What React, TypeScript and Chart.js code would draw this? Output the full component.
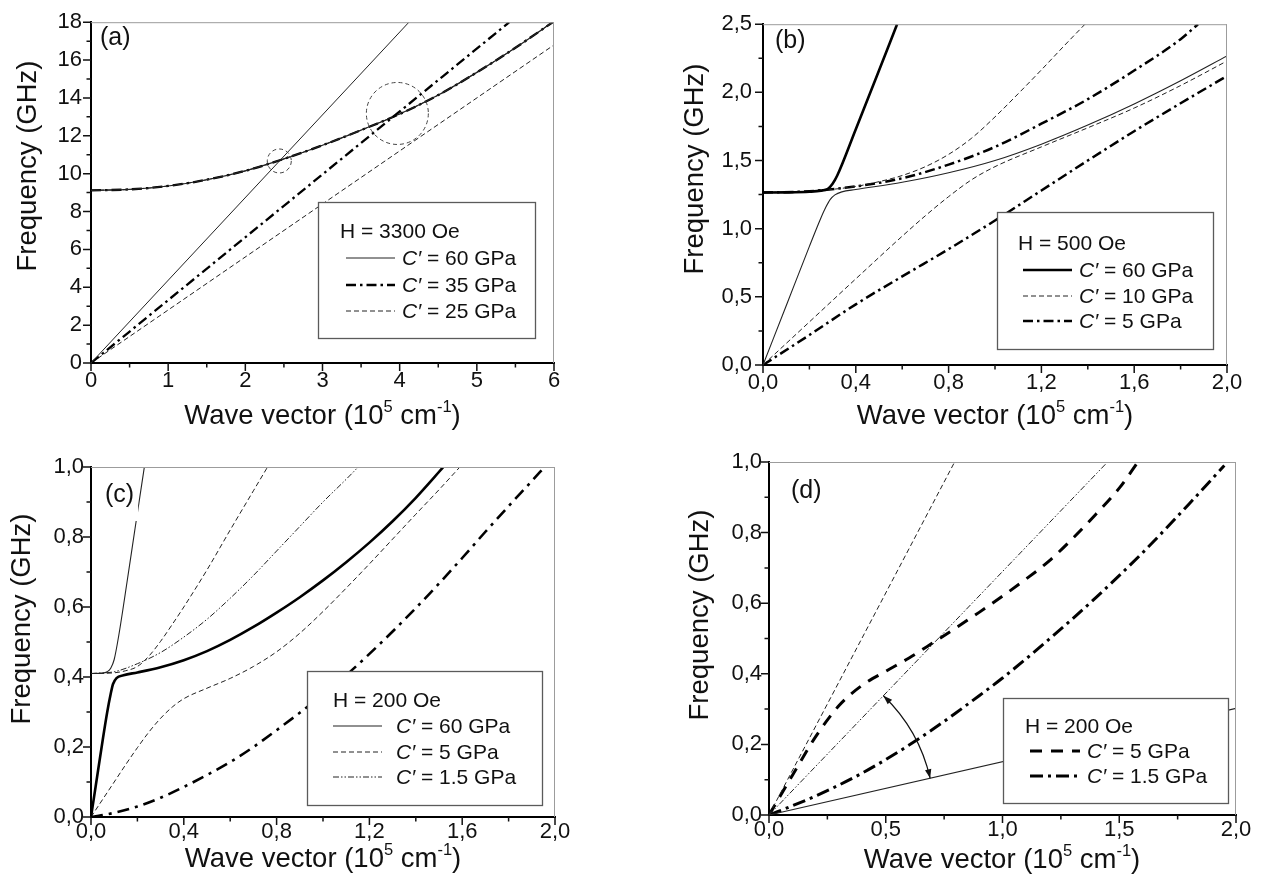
import React, { useEffect, useRef } from 'react';
import { Chart, registerables } from 'chart.js';

Chart.register(...registerables);

const FONT = '"Liberation Sans", Arial, Helvetica, sans-serif';
const W = 1263;
const H = 886;

// ---------------- (a) H = 3300 Oe ----------------
const aXTicks = [0, 1, 2, 3, 4, 5, 6];
const aXLabels = ['0', '1', '2', '3', '4', '5', '6'];
const aYTicks = [0, 2, 4, 6, 8, 10, 12, 14, 16, 18];
const aYLabels = ['0', '2', '4', '6', '8', '10', '12', '14', '16', '18'];
const aPhonon60X = [0, 4.12];
const aPhonon60Y = [0, 18];
const aPhonon35X = [0, 5.42];
const aPhonon35Y = [0, 18];
const aPhonon25X = [0, 6];
const aPhonon25Y = [0, 16.8];
const aMagnonX = [0, 0.5, 1, 1.5, 2, 2.5, 3, 3.5, 4, 4.5, 5, 5.5, 6];
const aMagnonY = [9.12, 9.17, 9.35, 9.68, 10.15, 10.78, 11.5, 12.3, 13.15, 14.15, 15.35, 16.65, 18.05];
const aCircleX = [2.44, 3.97];
const aCircleY = [10.67, 13.18];
const aLegend = ['60 GPa', '35 GPa', '25 GPa'];

// ---------------- (b) H = 500 Oe ----------------
const bXTicks = [0, 0.4, 0.8, 1.2, 1.6, 2.0];
const bXLabels = ['0,0', '0,4', '0,8', '1,2', '1,6', '2,0'];
const bYTicks = [0, 0.5, 1.0, 1.5, 2.0, 2.5];
const bYLabels = ['0,0', '0,5', '1,0', '1,5', '2,0', '2,5'];
const bUp60X = [0, 0.1, 0.2, 0.25, 0.28, 0.3, 0.32, 0.4, 0.5, 0.578];
const bUp60Y = [1.265, 1.266, 1.271, 1.279, 1.293, 1.33, 1.39, 1.73, 2.16, 2.5];
const bLo60X = [0, 0.1, 0.2, 0.25, 0.27, 0.29, 0.31, 0.34, 0.4, 0.6, 0.8, 1.0, 1.2, 1.4, 1.6, 1.8, 2.0];
const bLo60Y = [0, 0.435, 0.87, 1.08, 1.155, 1.215, 1.248, 1.27, 1.287, 1.34, 1.41, 1.5, 1.62, 1.76, 1.915, 2.085, 2.267];
const bUp10X = [0, 0.2, 0.4, 0.5, 0.6, 0.7, 0.8, 0.9, 1.0, 1.1, 1.2, 1.3, 1.388];
const bUp10Y = [1.265, 1.275, 1.31, 1.345, 1.39, 1.455, 1.545, 1.665, 1.82, 1.99, 2.165, 2.345, 2.5];
const bLo10X = [0, 0.2, 0.4, 0.6, 0.7, 0.8, 0.9, 1.0, 1.2, 1.4, 1.6, 1.8, 2.0];
const bLo10Y = [0, 0.316, 0.632, 0.945, 1.095, 1.235, 1.36, 1.455, 1.6, 1.74, 1.885, 2.05, 2.23];
const bUp5X = [0, 0.2, 0.4, 0.6, 0.8, 1.0, 1.2, 1.4, 1.6, 1.8, 1.875];
const bUp5Y = [1.265, 1.275, 1.31, 1.37, 1.47, 1.6, 1.77, 1.95, 2.16, 2.39, 2.5];
const bLo5X = [0, 0.2, 0.4, 0.6, 0.8, 1.0, 1.2, 1.4, 1.6, 1.8, 2.0];
const bLo5Y = [0, 0.22, 0.445, 0.65, 0.85, 1.06, 1.28, 1.5, 1.715, 1.92, 2.12];
const bLegend = ['60 GPa', '10 GPa', '5 GPa'];

// ---------------- (c) H = 200 Oe ----------------
const cXTicks = [0, 0.4, 0.8, 1.2, 1.6, 2.0];
const cXLabels = ['0,0', '0,4', '0,8', '1,2', '1,6', '2,0'];
const cYTicks = [0, 0.2, 0.4, 0.6, 0.8, 1.0];
const cYLabels = ['0,0', '0,2', '0,4', '0,6', '0,8', '1,0'];
const cUp60X = [0, 0.05, 0.07, 0.085, 0.1, 0.12, 0.155, 0.19, 0.23];
const cUp60Y = [0.41, 0.411, 0.415, 0.425, 0.45, 0.52, 0.67, 0.825, 1.0];
const cLo60X = [0, 0.02, 0.05, 0.07, 0.085, 0.095, 0.11, 0.14, 0.2, 0.3, 0.4, 0.5, 0.6, 0.7, 0.8, 0.9, 1.0, 1.1, 1.2, 1.3, 1.4, 1.519];
const cLo60Y = [0, 0.087, 0.218, 0.3, 0.352, 0.38, 0.397, 0.405, 0.413, 0.428, 0.448, 0.474, 0.506, 0.543, 0.584, 0.628, 0.676, 0.728, 0.784, 0.845, 0.912, 1.0];
const cUp5X = [0, 0.1, 0.15, 0.2, 0.25, 0.3, 0.35, 0.4, 0.5, 0.6, 0.7, 0.761];
const cUp5Y = [0.41, 0.412, 0.418, 0.43, 0.46, 0.502, 0.55, 0.6, 0.706, 0.82, 0.932, 1.0];
const cLo5X = [0, 0.05, 0.1, 0.15, 0.2, 0.25, 0.3, 0.35, 0.4, 0.5, 0.6, 0.7, 0.8, 0.9, 1.0, 1.1, 1.2, 1.3, 1.4, 1.5, 1.59];
const cLo5Y = [0, 0.05, 0.1, 0.15, 0.198, 0.243, 0.282, 0.314, 0.338, 0.368, 0.396, 0.43, 0.472, 0.525, 0.587, 0.654, 0.723, 0.794, 0.865, 0.935, 1.0];
const cUp15X = [0, 0.1, 0.2, 0.3, 0.4, 0.5, 0.6, 0.7, 0.8, 0.9, 1.0, 1.1, 1.152];
const cUp15Y = [0.41, 0.415, 0.438, 0.47, 0.514, 0.565, 0.625, 0.69, 0.76, 0.83, 0.9, 0.965, 1.0];
const cLo15X = [0, 0.1, 0.2, 0.3, 0.4, 0.5, 0.6, 0.7, 0.8, 0.9, 1.0, 1.1, 1.2, 1.3, 1.4, 1.5, 1.6, 1.7, 1.8, 1.9, 1.955];
const cLo15Y = [0, 0.012, 0.03, 0.055, 0.086, 0.12, 0.157, 0.2, 0.248, 0.298, 0.35, 0.405, 0.466, 0.53, 0.597, 0.667, 0.74, 0.815, 0.888, 0.96, 1.0];
const cLegend = ['60 GPa', '5 GPa', '1.5 GPa'];

// ---------------- (d) H = 200 Oe ----------------
const dXTicks = [0, 0.5, 1.0, 1.5, 2.0];
const dXLabels = ['0,0', '0,5', '1,0', '1,5', '2,0'];
const dYTicks = [0, 0.2, 0.4, 0.6, 0.8, 1.0];
const dYLabels = ['0,0', '0,2', '0,4', '0,6', '0,8', '1,0'];
const dPhonon5X = [0, 0.795];
const dPhonon5Y = [0, 1.0];
const dPhonon15X = [0, 1.45];
const dPhonon15Y = [0, 1.0];
const dSoftX = [0, 2.0];
const dSoftY = [0, 0.302];
const d5X = [0, 0.1, 0.2, 0.3, 0.4, 0.5, 0.6, 0.7, 0.8, 0.9, 1.0, 1.1, 1.2, 1.3, 1.4, 1.5, 1.58];
const d5Y = [0, 0.112, 0.222, 0.31, 0.368, 0.407, 0.445, 0.487, 0.53, 0.574, 0.62, 0.668, 0.72, 0.783, 0.852, 0.926, 1.0];
const d15X = [0, 0.1, 0.2, 0.3, 0.4, 0.5, 0.6, 0.7, 0.8, 0.9, 1.0, 1.2, 1.4, 1.6, 1.8, 1.95];
const d15Y = [0, 0.026, 0.054, 0.085, 0.119, 0.157, 0.198, 0.242, 0.289, 0.338, 0.388, 0.498, 0.616, 0.743, 0.882, 0.99];
const dArcFrom = [0.49, 0.338];
const dArcTo = [0.69, 0.104];
const dLegend = ['5 GPa', '1.5 GPa'];

// ---------------- styles ----------------
const THIN_C = '#222';
const THICK_C = '#000';
const DASH = [5, 3];
const DASHDOT = [10, 4, 2.5, 4];
const DASHDOTDOT = [6, 2, 1.5, 2, 1.5, 2];
const DASHDOT_C = [12, 6, 3, 6];
const DASH_D = [12, 9];
const DASHDOT_D = [13, 5, 3, 5];

const pts = (xs: number[], ys: number[]) => xs.map((x, i) => ({ x, y: ys[i] }));

function line(xs: number[], ys: number[], width: number, dash: number[], color: string) {
  return {
    data: pts(xs, ys),
    showLine: true,
    borderColor: color,
    backgroundColor: color,
    borderWidth: width,
    borderDash: dash,
    pointRadius: 0,
    pointHoverRadius: 0,
    fill: false,
    cubicInterpolationMode: 'monotone',
  };
}

function toPx(chart: any, x: number, y: number) {
  return [chart.scales.x.getPixelForValue(x), chart.scales.y.getPixelForValue(y)];
}

function drawCircles(chart: any) {
  const ctx = chart.ctx;
  const radii = [12, 31];
  ctx.save();
  ctx.strokeStyle = '#444';
  ctx.lineWidth = 1;
  ctx.setLineDash([4, 3]);
  aCircleX.forEach((cx, i) => {
    const [px, py] = toPx(chart, cx, aCircleY[i]);
    ctx.beginPath();
    ctx.arc(px, py, radii[i], 0, Math.PI * 2);
    ctx.stroke();
  });
  ctx.restore();
}

function arrowHead(ctx: any, x: number, y: number, dx: number, dy: number) {
  const len = 9, half = 3.2;
  const n = Math.hypot(dx, dy);
  const ux = dx / n, uy = dy / n;
  ctx.beginPath();
  ctx.moveTo(x, y);
  ctx.lineTo(x - ux * len - uy * half, y - uy * len + ux * half);
  ctx.lineTo(x - ux * len + uy * half, y - uy * len - ux * half);
  ctx.closePath();
  ctx.fill();
}

function drawArc(chart: any) {
  const ctx = chart.ctx;
  const [ox, oy] = toPx(chart, 0, 0);
  const [x1, y1] = toPx(chart, dArcFrom[0], dArcFrom[1]);
  const [x2, y2] = toPx(chart, dArcTo[0], dArcTo[1]);
  const r = (Math.hypot(x1 - ox, y1 - oy) + Math.hypot(x2 - ox, y2 - oy)) / 2;
  const a1 = Math.atan2(y1 - oy, x1 - ox);
  const a2 = Math.atan2(y2 - oy, x2 - ox);
  ctx.save();
  ctx.strokeStyle = '#111';
  ctx.fillStyle = '#111';
  ctx.lineWidth = 1.2;
  ctx.setLineDash([]);
  ctx.beginPath();
  ctx.arc(ox, oy, r, a1, a2, false);
  ctx.stroke();
  const p1x = ox + r * Math.cos(a1), p1y = oy + r * Math.sin(a1);
  const p2x = ox + r * Math.cos(a2), p2y = oy + r * Math.sin(a2);
  arrowHead(ctx, p1x, p1y, Math.sin(a1), -Math.cos(a1));
  arrowHead(ctx, p2x, p2y, -Math.sin(a2), Math.cos(a2));
  ctx.restore();
}

interface Panel {
  area: number[];
  x: { min: number; max: number; ticks: number[]; labels: string[]; pad: number };
  y: { min: number; max: number; ticks: number[]; labels: string[]; pad: number };
  tag: { text: string; x: number; y: number };
  yTitle: { x: number; cy: number };
  xTitle: { cx: number; y: number };
  legend: { box: number[]; header: string; hx: number; hy: number; sx0: number; sx1: number; tx: number; rows: { ds: number; label: string; y: number }[] };
  datasets: any[];
  extra?: (chart: any) => void;
}

const PANELS: Panel[] = [
  {
    area: [91, 15, 554, 363],
    x: { min: 0, max: 6, ticks: aXTicks, labels: aXLabels, pad: 5 },
    y: { min: 0, max: 18, ticks: aYTicks, labels: aYLabels, pad: 9 },
    tag: { text: '(a)', x: 100, y: 45 },
    yTitle: { x: 35.5, cy: 166 },
    xTitle: { cx: 322.5, y: 424 },
    legend: {
      box: [318, 202, 535, 338], header: 'H = 3300 Oe', hx: 340, hy: 238, sx0: 346, sx1: 395, tx: 402,
      rows: [{ ds: 0, label: aLegend[0], y: 265 }, { ds: 1, label: aLegend[1], y: 292 }, { ds: 2, label: aLegend[2], y: 318 }],
    },
    datasets: [
      line(aPhonon60X, aPhonon60Y, 1, [], THIN_C),
      line(aPhonon35X, aPhonon35Y, 2.3, DASHDOT, THICK_C),
      line(aPhonon25X, aPhonon25Y, 1, DASH, THIN_C),
      line(aMagnonX, aMagnonY, 1.2, [], THIN_C),
      line(aMagnonX, aMagnonY, 2.3, DASHDOT, THICK_C),
      line(aMagnonX, aMagnonY, 1, DASH, THIN_C),
    ],
    extra: drawCircles,
  },
  {
    area: [763, 16, 1227, 365],
    x: { min: 0, max: 2, ticks: bXTicks, labels: bXLabels, pad: 5 },
    y: { min: 0, max: 2.5, ticks: bYTicks, labels: bYLabels, pad: 11 },
    tag: { text: '(b)', x: 775, y: 48 },
    yTitle: { x: 703, cy: 169 },
    xTitle: { cx: 995, y: 424 },
    legend: {
      box: [997, 212, 1213, 349], header: 'H = 500 Oe', hx: 1018, hy: 250, sx0: 1023, sx1: 1072, tx: 1079,
      rows: [{ ds: 0, label: bLegend[0], y: 277 }, { ds: 2, label: bLegend[1], y: 303 }, { ds: 4, label: bLegend[2], y: 328 }],
    },
    datasets: [
      line(bUp60X, bUp60Y, 2.6, [], THICK_C),
      line(bLo60X, bLo60Y, 1.1, [], THIN_C),
      line(bUp10X, bUp10Y, 1, DASH, THIN_C),
      line(bLo10X, bLo10Y, 1, DASH, THIN_C),
      line(bUp5X, bUp5Y, 2.5, DASHDOT, THICK_C),
      line(bLo5X, bLo5Y, 2.5, DASHDOT, THICK_C),
    ],
  },
  {
    area: [91, 467, 555, 817],
    x: { min: 0, max: 2, ticks: cXTicks, labels: cXLabels, pad: 2 },
    y: { min: 0, max: 1, ticks: cYTicks, labels: cYLabels, pad: 7 },
    tag: { text: '(c)', x: 105, y: 502 },
    yTitle: { x: 29.5, cy: 619 },
    xTitle: { cx: 323, y: 867 },
    legend: {
      box: [307, 671, 542, 805], header: 'H = 200 Oe', hx: 333, hy: 707, sx0: 333, sx1: 382, tx: 396,
      rows: [{ ds: 0, label: cLegend[0], y: 733 }, { ds: 2, label: cLegend[1], y: 759 }, { ds: 4, label: cLegend[2], y: 784 }],
    },
    datasets: [
      line(cUp60X, cUp60Y, 1.1, [], THIN_C),
      line(cLo60X, cLo60Y, 2.6, [], THICK_C),
      line(cUp5X, cUp5Y, 1, DASH, THIN_C),
      line(cLo5X, cLo5Y, 1, DASH, THIN_C),
      line(cUp15X, cUp15Y, 1, DASHDOTDOT, THIN_C),
      line(cLo15X, cLo15Y, 2.6, DASHDOT_C, THICK_C),
    ],
  },
  {
    area: [769, 462, 1236, 815],
    x: { min: 0, max: 2, ticks: dXTicks, labels: dXLabels, pad: 2 },
    y: { min: 0, max: 1, ticks: dYTicks, labels: dYLabels, pad: 7 },
    tag: { text: '(d)', x: 791, y: 498 },
    yTitle: { x: 707.5, cy: 615 },
    xTitle: { cx: 1002, y: 868 },
    legend: {
      box: [1003, 698, 1228, 803], header: 'H = 200 Oe', hx: 1025, hy: 733, sx0: 1030, sx1: 1080, tx: 1087,
      rows: [{ ds: 3, label: dLegend[0], y: 758 }, { ds: 4, label: dLegend[1], y: 783 }],
    },
    datasets: [
      line(dPhonon5X, dPhonon5Y, 1, DASH, THIN_C),
      line(dPhonon15X, dPhonon15Y, 1, DASHDOTDOT, THIN_C),
      line(dSoftX, dSoftY, 1.1, [], THIN_C),
      line(d5X, d5Y, 3, DASH_D, THICK_C),
      line(d15X, d15Y, 3, DASHDOT_D, THICK_C),
    ],
    extra: drawArc,
  },
];

function drawLegend(ctx: any, chart: any, p: Panel) {
  const L = p.legend;
  const [l, t, r, b] = L.box;
  ctx.save();
  ctx.setLineDash([]);
  ctx.fillStyle = '#fff';
  ctx.fillRect(l, t, r - l, b - t);
  ctx.strokeStyle = '#5a5a5a';
  ctx.lineWidth = 1.3;
  ctx.strokeRect(l + 0.5, t + 0.5, r - l, b - t);
  ctx.fillStyle = '#111';
  ctx.textAlign = 'left';
  ctx.textBaseline = 'alphabetic';
  ctx.font = `21px ${FONT}`;
  ctx.fillText(L.header, L.hx, L.hy);
  for (const row of L.rows) {
    const ds = chart.data.datasets[row.ds];
    ctx.save();
    ctx.strokeStyle = ds.borderColor;
    ctx.lineWidth = ds.borderWidth;
    ctx.setLineDash(ds.borderDash || []);
    ctx.beginPath();
    ctx.moveTo(L.sx0, row.y - 7);
    ctx.lineTo(L.sx1, row.y - 7);
    ctx.stroke();
    ctx.restore();
    ctx.font = `italic 21px ${FONT}`;
    ctx.fillText('C\u2032', L.tx, row.y);
    const w1 = ctx.measureText('C\u2032').width;
    ctx.font = `21px ${FONT}`;
    ctx.fillText(' = ' + row.label, L.tx + w1, row.y);
  }
  ctx.restore();
}

function drawTag(ctx: any, p: Panel) {
  ctx.save();
  ctx.font = `25px ${FONT}`;
  const w = ctx.measureText(p.tag.text).width;
  ctx.fillStyle = '#fff';
  ctx.fillRect(p.tag.x - 4, p.tag.y - 26, w + 8, 45);
  ctx.fillStyle = '#111';
  ctx.textAlign = 'left';
  ctx.textBaseline = 'alphabetic';
  ctx.fillText(p.tag.text, p.tag.x, p.tag.y);
  ctx.restore();
}

function drawTicksAndFrame(ctx: any, chart: any, p: Panel) {
  const xs = chart.scales.x, ys = chart.scales.y;
  const { left, top, right, bottom } = chart.chartArea;
  const mids = (t: number[]) => t.slice(1).map((v, i) => (v + t[i]) / 2);
  ctx.save();
  ctx.setLineDash([]);
  ctx.strokeStyle = '#9c9c9c';
  ctx.lineWidth = 1;
  ctx.beginPath();
  ctx.moveTo(left, top + 0.5);
  ctx.lineTo(right, top + 0.5);
  ctx.moveTo(right - 0.5, top);
  ctx.lineTo(right - 0.5, bottom);
  ctx.stroke();
  ctx.strokeStyle = '#111';
  ctx.lineWidth = 1.5;
  ctx.beginPath();
  for (const v of p.x.ticks) { const px = xs.getPixelForValue(v); ctx.moveTo(px, bottom); ctx.lineTo(px, bottom + 8); }
  for (const v of mids(p.x.ticks)) { const px = xs.getPixelForValue(v); ctx.moveTo(px, bottom); ctx.lineTo(px, bottom + 4.5); }
  for (const v of p.y.ticks) { const py = ys.getPixelForValue(v); ctx.moveTo(left, py); ctx.lineTo(left - 8, py); }
  for (const v of mids(p.y.ticks)) { const py = ys.getPixelForValue(v); ctx.moveTo(left, py); ctx.lineTo(left - 4.5, py); }
  ctx.stroke();
  ctx.restore();
}

const Y_TITLE = 'Frequency (GHz)';
const X_TITLE_PARTS = [
  { t: 'Wave vector (10', sup: false },
  { t: '5', sup: true },
  { t: ' cm', sup: false },
  { t: '-1', sup: true },
  { t: ')', sup: false },
];

function drawTitles(ctx: any, p: Panel) {
  ctx.save();
  ctx.fillStyle = '#111';
  ctx.textBaseline = 'alphabetic';
  ctx.save();
  ctx.translate(p.yTitle.x, p.yTitle.cy);
  ctx.rotate(-Math.PI / 2);
  ctx.font = `27.5px ${FONT}`;
  ctx.textAlign = 'center';
  ctx.fillText(Y_TITLE, 0, 0);
  ctx.restore();
  ctx.textAlign = 'left';
  const big = `27.5px ${FONT}`, small = `16.5px ${FONT}`;
  let total = 0;
  for (const part of X_TITLE_PARTS) { ctx.font = part.sup ? small : big; total += ctx.measureText(part.t).width; }
  let x = p.xTitle.cx - total / 2;
  for (const part of X_TITLE_PARTS) {
    ctx.font = part.sup ? small : big;
    ctx.fillText(part.t, x, p.xTitle.y - (part.sup ? 12 : 0));
    x += ctx.measureText(part.t).width;
  }
  ctx.restore();
}

function makePlugin(p: Panel) {
  return {
    id: 'panelDecor',
    afterDatasetsDraw(chart: any) {
      const ctx = chart.ctx;
      if (p.extra) p.extra(chart);
      drawLegend(ctx, chart, p);
      drawTag(ctx, p);
    },
    afterDraw(chart: any) {
      const ctx = chart.ctx;
      drawTicksAndFrame(ctx, chart, p);
      drawTitles(ctx, p);
    },
  };
}

function buildConfig(p: Panel): any {
  const [l, t, r, b] = p.area;
  const tickFont = { family: FONT, size: 22 };
  return {
    type: 'scatter',
    data: { datasets: p.datasets },
    options: {
      animation: false,
      responsive: false,
      devicePixelRatio: 1,
      events: [],
      layout: { padding: { left: 0, top: t, right: W - r, bottom: 0 } },
      plugins: { legend: { display: false }, tooltip: { enabled: false } },
      scales: {
        x: {
          type: 'linear',
          min: p.x.min,
          max: p.x.max,
          afterBuildTicks: (s: any) => { s.ticks = p.x.ticks.map((v) => ({ value: v })); },
          afterFit: (s: any) => { s.height = H - b; },
          ticks: {
            autoSkip: false, maxRotation: 0, minRotation: 0, padding: p.x.pad, color: '#111', font: tickFont,
            callback: (_v: any, i: number) => p.x.labels[i],
          },
          grid: { display: false, drawTicks: false },
          border: { display: true, color: '#000', width: 2 },
        },
        y: {
          type: 'linear',
          min: p.y.min,
          max: p.y.max,
          afterBuildTicks: (s: any) => { s.ticks = p.y.ticks.map((v) => ({ value: v })); },
          afterFit: (s: any) => { s.width = l; },
          ticks: {
            autoSkip: false, padding: p.y.pad, color: '#111', font: tickFont,
            callback: (_v: any, i: number) => p.y.labels[i],
          },
          grid: { display: false, drawTicks: false },
          border: { display: true, color: '#000', width: 2 },
        },
      },
    },
    plugins: [makePlugin(p)],
  };
}

function PanelChart({ panel }: { panel: Panel }) {
  const ref = useRef<HTMLCanvasElement>(null);
  useEffect(() => {
    const chart = new Chart(ref.current as HTMLCanvasElement, buildConfig(panel));
    return () => chart.destroy();
  }, [panel]);
  return (
    <canvas
      ref={ref}
      width={W}
      height={H}
      style={{ position: 'absolute', left: 0, top: 0, width: W, height: H }}
    />
  );
}

export default function App() {
  return (
    <div style={{ position: 'absolute', left: 0, top: 0, width: W, height: H, background: '#fff', overflow: 'hidden' }}>
      {PANELS.map((p, i) => (
        <PanelChart key={i} panel={p} />
      ))}
    </div>
  );
}
